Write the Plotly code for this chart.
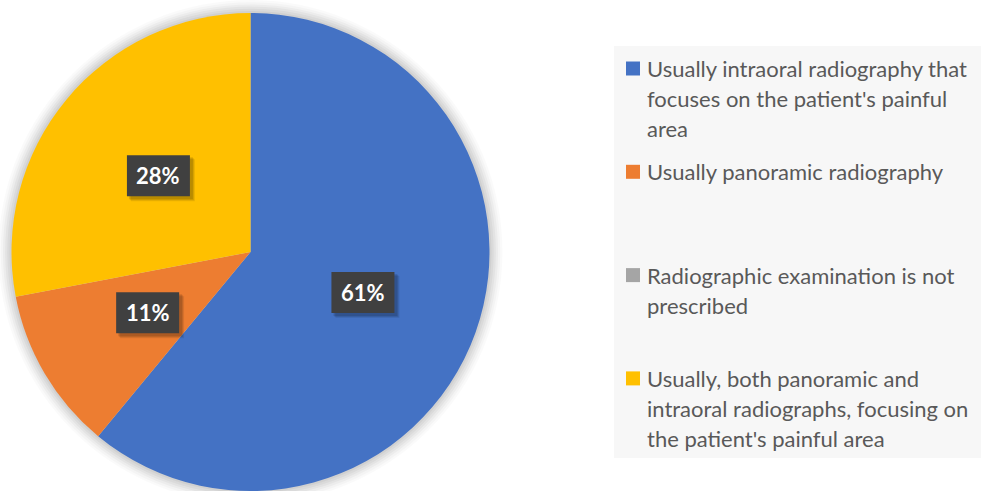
import math
import plotly.graph_objects as go

# ---------------- data ----------------
labels = [
    "Usually intraoral radiography that<br>focuses on the patient's painful<br>area",
    "Usually panoramic radiography",
    "Radiographic examination is not<br>prescribed",
    "Usually, both panoramic and<br>intraoral radiographs, focusing on<br>the patient's painful area",
]
values = [61, 11, 0, 28]
colors = ["#4472C4", "#ED7D31", "#A5A5A5", "#FFC000"]

# ---------------- layout constants ----------------
W, H = 981, 491
CX, CY, R = 250.5, 252.0, 239.0  # pie centre / radius in pixels
BOX_W, BOX_H = 63, 41


def px(x):
    return x / W


def py(y):
    return 1 - y / H


fig = go.Figure()
fig.add_trace(go.Pie(
    labels=[l.replace("<br>", " ") for l in labels],
    values=values,
    marker=dict(colors=colors, line=dict(width=0)),
    sort=False,
    direction="clockwise",
    rotation=0,
    textinfo="none",
    showlegend=False,
    domain=dict(x=[px(CX - R), px(CX + R)], y=[max(0, py(CY + R)), py(CY - R)]),
    hovertemplate="%{label}: %{value}%<extra></extra>",
))

shapes = []
# soft shadow around the pie
for i, a in enumerate([0.02, 0.025, 0.03, 0.035, 0.04, 0.045]):
    rr = R + 13 - 2.2 * i
    shapes.append(dict(type="circle", xref="paper", yref="paper",
                       x0=px(CX - rr), x1=px(CX + rr), y0=py(CY + rr), y1=py(CY - rr),
                       fillcolor=f"rgba(0,0,0,{a})", line=dict(width=0), layer="below"))

annotations = []
# data labels
total = sum(values)
cum = 0
for v in values:
    mid = (cum + v / 2) / total
    cum += v
    if v == 0:
        continue
    ang = math.radians(90 - 360 * mid)
    r = 0.5 * R
    x = CX + r * math.cos(ang)
    y = CY - r * math.sin(ang)
    # shadow of the box
    for k, a in enumerate([0.08, 0.1, 0.12]):
        o = 5 - k
        shapes.append(dict(type="rect", xref="paper", yref="paper",
                           x0=px(x - BOX_W / 2 + o - 1), x1=px(x + BOX_W / 2 + o),
                           y0=py(y + BOX_H / 2 + o), y1=py(y - BOX_H / 2 + o - 1),
                           fillcolor=f"rgba(0,0,0,{a})", line=dict(width=0)))
    shapes.append(dict(type="rect", xref="paper", yref="paper",
                       x0=px(x - BOX_W / 2), x1=px(x + BOX_W / 2),
                       y0=py(y + BOX_H / 2), y1=py(y - BOX_H / 2),
                       fillcolor="#404040", line=dict(width=0)))
    annotations.append(dict(x=px(x), y=py(y), xref="paper", yref="paper",
                            xanchor="center", yanchor="middle",
                            text=f"<b>{v}%</b>", showarrow=False,
                            font=dict(family="Lato", size=22, color="white")))

# legend (manual)
shapes.append(dict(type="rect", xref="paper", yref="paper",
                   x0=px(614), x1=1, y0=py(458), y1=py(46),
                   fillcolor="#F7F7F7", line=dict(width=0), layer="below"))
first_y = 68.5
step = 103.3
line_h = 30
for i, (lab, col) in enumerate(zip(labels, colors)):
    y0 = first_y + i * step
    shapes.append(dict(type="rect", xref="paper", yref="paper",
                       x0=px(626), x1=px(640), y0=py(y0 + 7), y1=py(y0 - 7),
                       fillcolor=col, line=dict(width=0)))
    for j, line in enumerate(lab.split("<br>")):
        annotations.append(dict(x=px(645), y=py(y0 + j * line_h), xref="paper", yref="paper",
                                xanchor="left", yanchor="middle", text=line, showarrow=False,
                                font=dict(family="Lato", size=22, color="#595959")))

fig.update_layout(
    width=W, height=H,
    margin=dict(l=0, r=0, t=0, b=0),
    paper_bgcolor="white",
    shapes=shapes,
    annotations=annotations,
)

fig.write_html("out.html")
